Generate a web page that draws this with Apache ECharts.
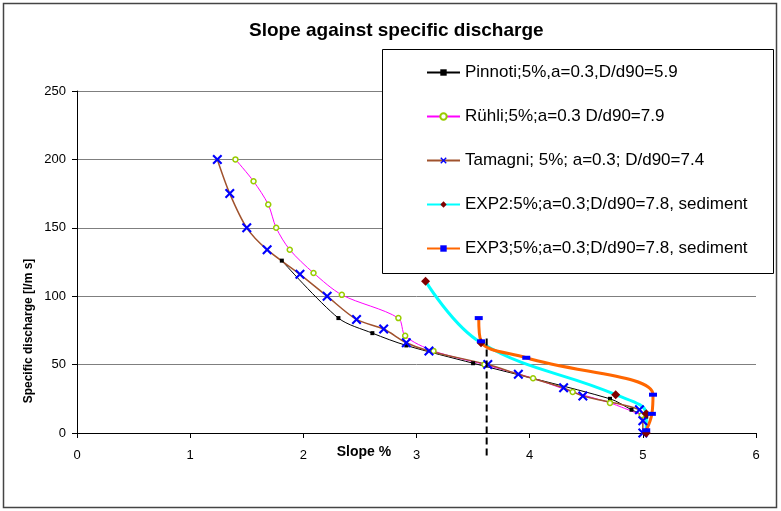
<!DOCTYPE html>
<html><head><meta charset="utf-8">
<script src="https://cdn.jsdelivr.net/npm/echarts@6/dist/echarts.min.js"></script>
<style>html,body{margin:0;padding:0;background:#fff}#c{width:781px;height:511px}</style>
</head><body><div id="c"></div>
<script>
const chartTitle = 'Slope against specific discharge';
const xAxisName = 'Slope %';
const yAxisName = 'Specific discharge [l/m s]';
const seriesNames = [
  'Pinnoti;5%,a=0.3,D/d90=5.9',
  'Rühli;5%;a=0.3 D/d90=7.9',
  'Tamagni; 5%; a=0.3; D/d90=7.4',
  'EXP2:5%;a=0.3;D/d90=7.8, sediment',
  'EXP3;5%;a=0.3;D/d90=7.8, sediment'
];
// [slope %, specific discharge]
const pinnoti = [[1.81,126],[2.31,84],[2.61,73],[2.91,64],[3.50,51],[4.71,25],[4.90,17],[5.03,12]];
const ruehli = [[1.40,200],[1.56,184],[1.69,167],[1.76,150],[1.88,134],[2.09,117],[2.34,101],[2.84,84],[2.90,71],[3.15,60],[3.60,50],[4.03,40],[4.38,30],[4.71,22],[4.99,13]];
const tamagni = [[1.24,200],[1.35,175],[1.50,150],[1.68,134],[1.97,116],[2.21,100],[2.47,83],[2.71,76],[2.91,66],[3.11,60],[3.63,50],[3.90,43],[4.30,33],[4.47,27],[4.97,17],[5.00,9],[5.00,0]];
const exp2 = [[3.08,111],[3.57,66],[4.76,28],[5.03,14],[5.03,0]];
const exp3 = [[3.55,84],[3.57,67],[3.97,55],[5.09,28],[5.08,14],[5.03,2]];
const dashedLine = [[3.62,69],[3.62,-18]];

const FONT = '"Liberation Sans", Arial, sans-serif';
const xMark = 'path://M0,1.5L1.5,0L5,3.5L8.5,0L10,1.5L6.5,5L10,8.5L8.5,10L5,6.5L1.5,10L0,8.5L3.5,5Z';
const chart = echarts.init(document.getElementById('c'));
chart.setOption({
  animation: false,
  backgroundColor: '#fff',
  title: {text: chartTitle, left: 249, top: 21, padding: 0,
    textStyle: {fontFamily: FONT, fontSize: 19, fontWeight: 'bold', color: '#000'}},
  grid: {left: 77, right: 25, top: 91, bottom: 78},
  xAxis: {type: 'value', min: 0, max: 6, interval: 1,
    axisLine: {show: true, lineStyle: {color: '#000', width: 1}},
    axisTick: {show: true, inside: false, length: 5, lineStyle: {color: '#000'}},
    axisLabel: {margin: 16, fontFamily: FONT, fontSize: 13, color: '#000'},
    splitLine: {show: false}},
  yAxis: {type: 'value', min: 0, max: 250, interval: 50,
    axisLine: {show: true, lineStyle: {color: '#000', width: 1}},
    axisTick: {show: true, inside: false, length: 5, lineStyle: {color: '#000'}},
    axisLabel: {margin: 11, fontFamily: FONT, fontSize: 13, color: '#000'},
    splitLine: {show: true, lineStyle: {color: '#7f7f7f', width: 1}}},
  legend: {orient: 'vertical', left: 426, top: 64, padding: 0, z: 10,
    itemWidth: 33, itemHeight: 8, itemGap: 27, data: seriesNames,
    textStyle: {fontFamily: FONT, fontSize: 17, color: '#000', lineHeight: 17}},
  graphic: [
    {type: 'rect', z: 0, silent: true, shape: {x: 3.5, y: 3.5, width: 773, height: 504},
      style: {fill: 'none', stroke: '#444', lineWidth: 1.5}},
    {type: 'rect', z: 5, silent: true, shape: {x: 382.5, y: 49.5, width: 391, height: 224},
      style: {fill: '#fff', stroke: '#000', lineWidth: 1}},
    {type: 'text', z: 5, x: 364, y: 452, silent: true,
      style: {text: xAxisName, font: 'bold 14px ' + FONT, fill: '#000', align: 'center', verticalAlign: 'middle', textAlign: 'center', textVerticalAlign: 'middle'}},
    {type: 'text', z: 5, x: 29, y: 331, rotation: Math.PI / 2, silent: true,
      style: {text: yAxisName, font: 'bold 12px ' + FONT, fill: '#000', align: 'center', verticalAlign: 'middle', textAlign: 'center', textVerticalAlign: 'middle'}}
  ],
  series: [
    {name: seriesNames[0], type: 'line', data: pinnoti, smooth: 0.3, symbol: 'rect', symbolSize: 4,
      itemStyle: {color: '#000'}, lineStyle: {color: '#000', width: 1}},
    {name: seriesNames[1], type: 'line', data: ruehli, smooth: 0.3, symbol: 'circle', symbolSize: 5,
      itemStyle: {color: '#fff', borderColor: '#99CC00', borderWidth: 1.5}, lineStyle: {color: '#FF00FF', width: 1}},
    {name: seriesNames[2], type: 'line', data: tamagni, smooth: 0.3, symbol: xMark, symbolSize: 10,
      itemStyle: {color: '#0000FF'}, lineStyle: {color: '#A0522D', width: 1.5}},
    {name: seriesNames[3], type: 'line', data: exp2, smooth: 0.4, symbol: 'diamond', symbolSize: 9,
      itemStyle: {color: '#800000'}, lineStyle: {color: '#00FFFF', width: 3}},
    {name: seriesNames[4], type: 'line', data: exp3, smooth: 0.4, symbol: 'rect', symbolSize: [8, 4],
      itemStyle: {color: '#0000FF'}, lineStyle: {color: '#FF6600', width: 3}},
    {name: 'threshold', type: 'line', data: dashedLine, clip: false, symbol: 'none', silent: true, z: 6,
      lineStyle: {color: '#000', width: 2, type: [7, 4]}}
  ]
});
</script></body></html>
